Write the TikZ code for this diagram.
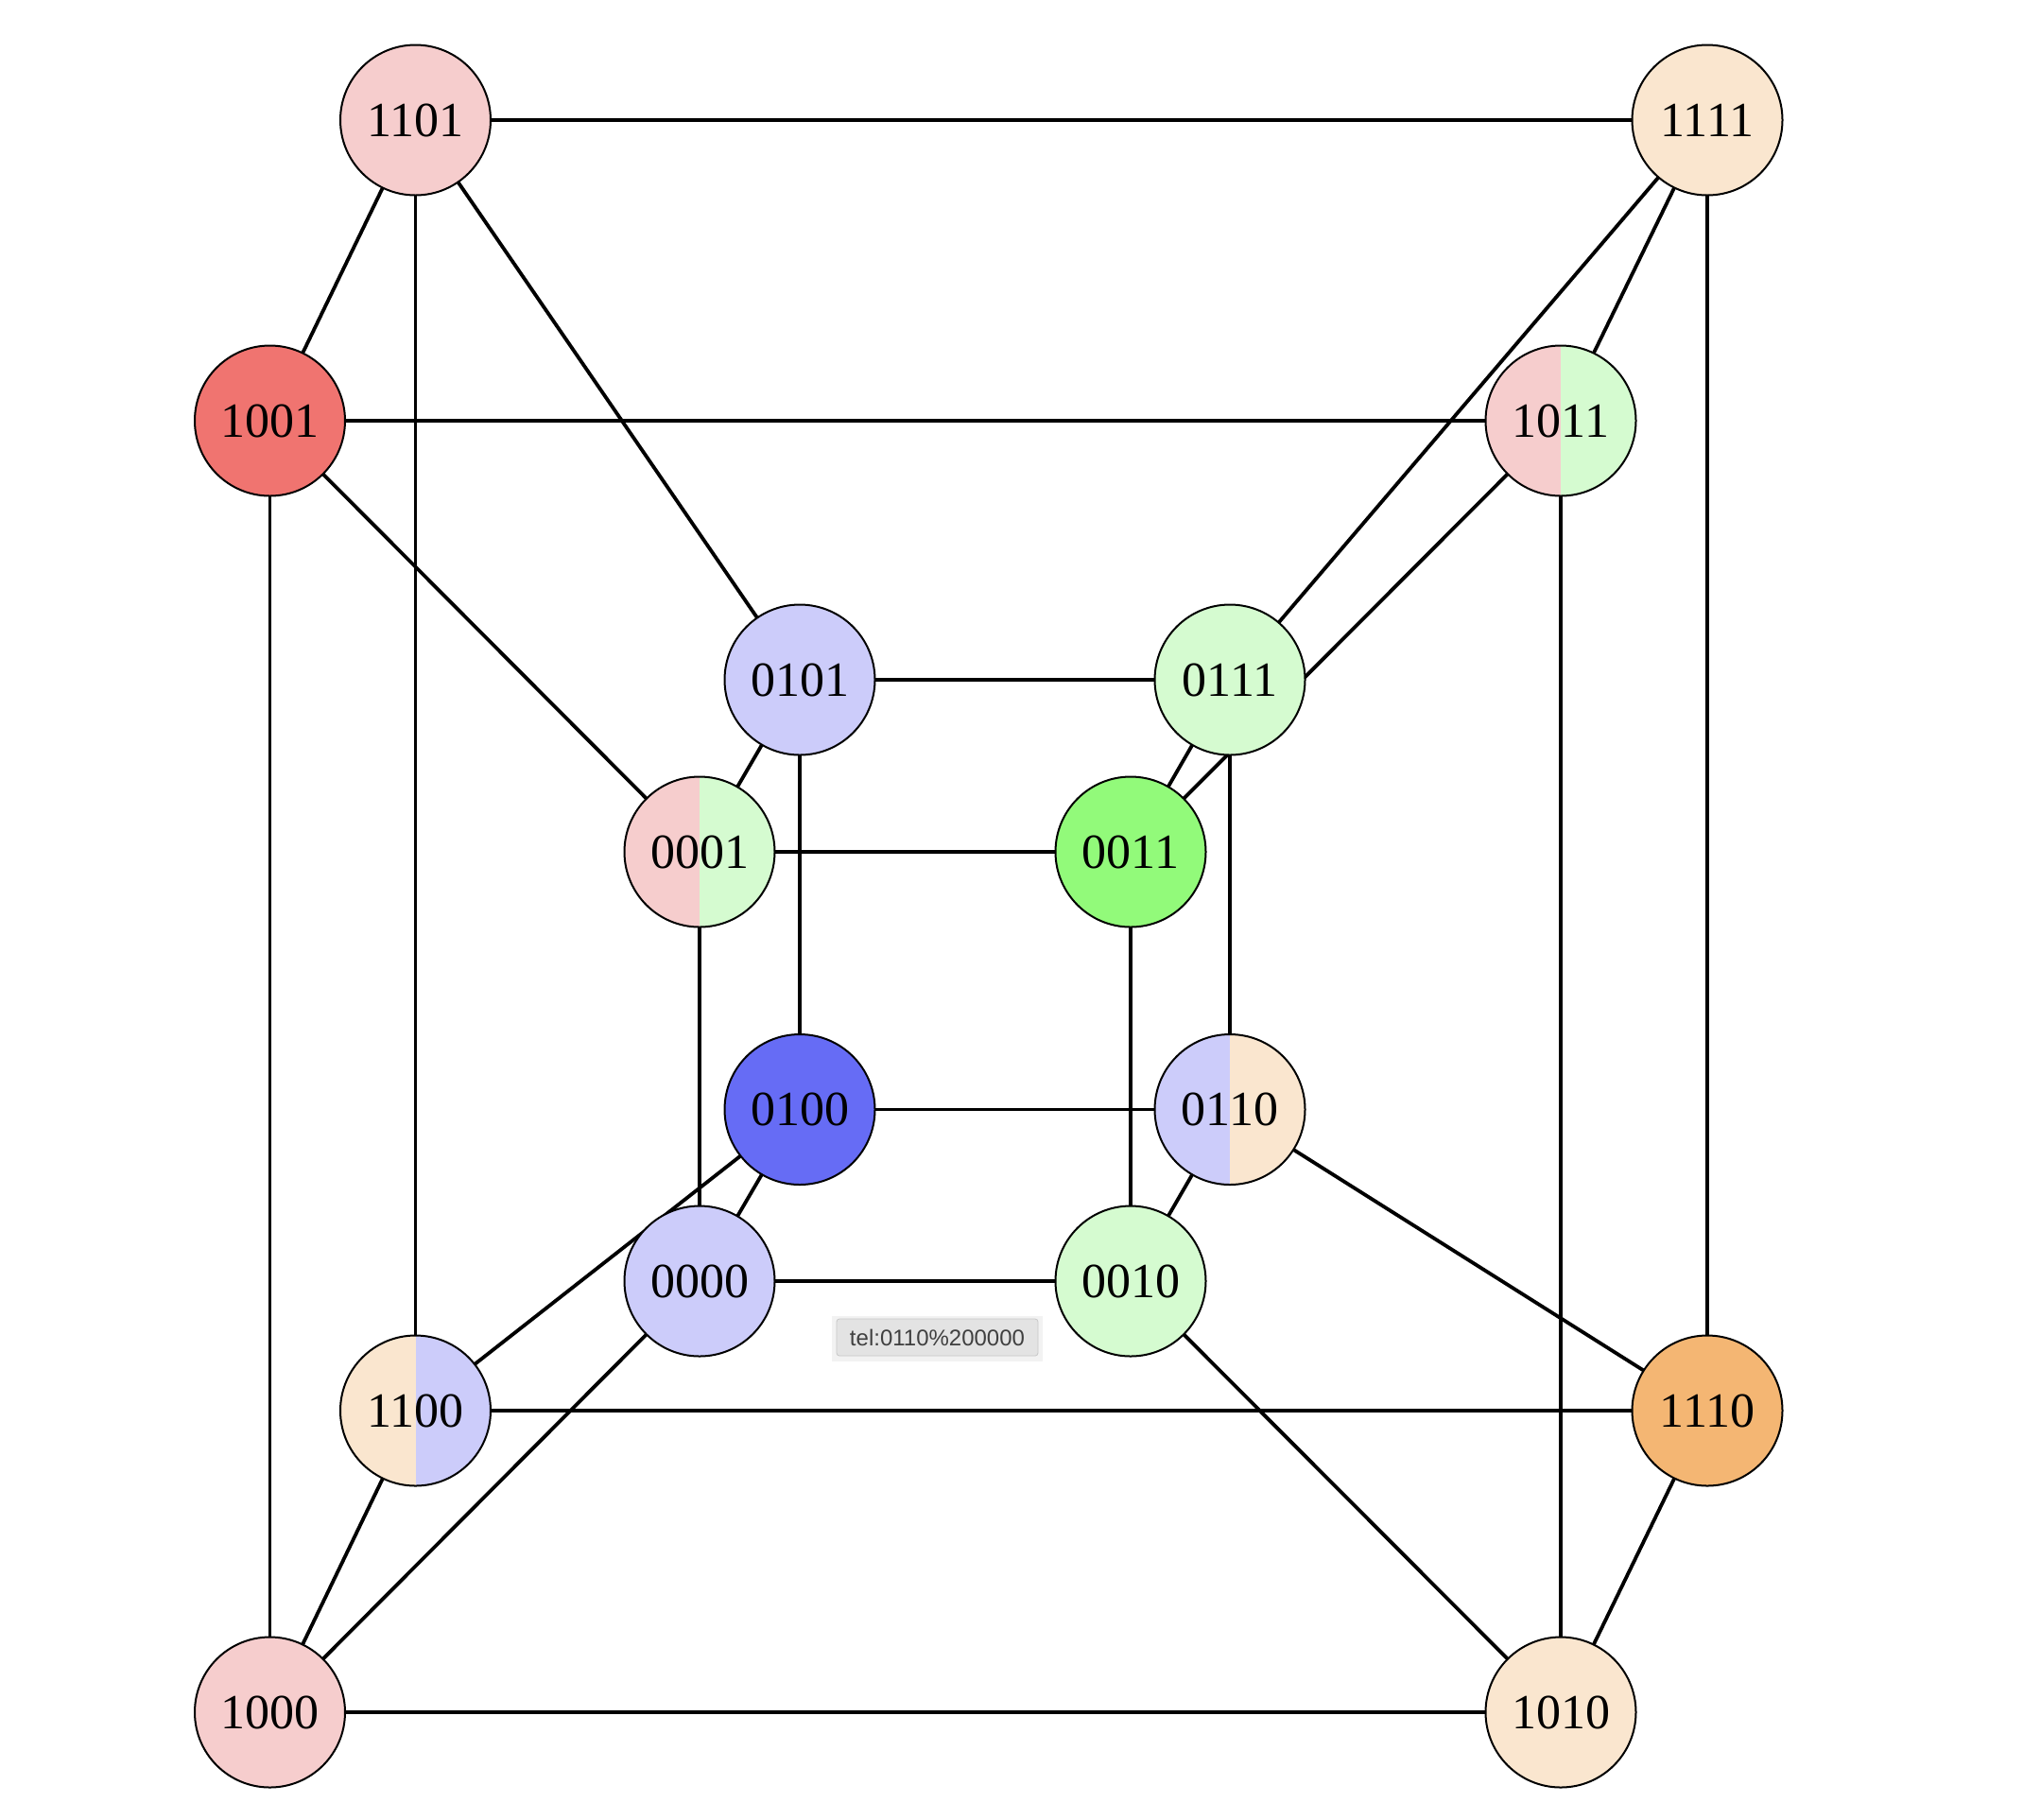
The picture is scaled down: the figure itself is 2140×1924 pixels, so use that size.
\documentclass[tikz,border=0pt]{standalone}
\usepackage{fontspec}
\setmainfont{Liberation Serif}
\newfontfamily\tipfont{Liberation Sans}
\usetikzlibrary{backgrounds}
\definecolor{cpink}{HTML}{F6CDCD}
\definecolor{cred}{HTML}{F07470}
\definecolor{clgreen}{HTML}{D5FBD0}
\definecolor{cgreen}{HTML}{92FA7A}
\definecolor{cblue}{HTML}{666CF5}
\definecolor{clav}{HTML}{CCCCFA}
\definecolor{cpeach}{HTML}{FAE6CF}
\definecolor{corange}{HTML}{F4B673}
\tikzset{
  vtx/.style={circle, draw=black, line width=1pt, minimum size=79.5pt, inner sep=0pt,
    font=\fontsize{26}{30}\selectfont},
  half/.style 2 args={vtx, path picture={
    \fill[#1] (path picture bounding box.south west) rectangle (path picture bounding box.north);
    \fill[#2] (path picture bounding box.south) rectangle (path picture bounding box.north east);}},
  edge/.style={line width=1.9pt, black},
}
\begin{document}
\begin{tikzpicture}[x=0.5pt, y=-0.5pt]
\useasboundingbox (0,0) rectangle (2140,1924);
% outer cube
\node[vtx, fill=cpink] (n1101) at (439.5,127) {1101};
\node[vtx, fill=cpeach] (n1111) at (1806,127) {1111};
\node[vtx, fill=cred] (n1001) at (285.5,445) {1001};
\node[half={cpink}{clgreen}] (n1011) at (1651,445) {1011};
\node[half={cpeach}{clav}] (n1100) at (439.5,1492) {1100};
\node[vtx, fill=corange] (n1110) at (1806,1492) {1110};
\node[vtx, fill=cpink] (n1000) at (285.5,1811) {1000};
\node[vtx, fill=cpeach] (n1010) at (1651,1811) {1010};
% inner cube
\node[vtx, fill=clav] (n0101) at (846,719) {0101};
\node[vtx, fill=clgreen] (n0111) at (1301,719) {0111};
\node[half={cpink}{clgreen}] (n0001) at (740,901) {0001};
\node[vtx, fill=cgreen] (n0011) at (1196,901) {0011};
\node[vtx, fill=cblue] (n0100) at (846,1173.5) {0100};
\node[half={clav}{cpeach}] (n0110) at (1301,1173.5) {0110};
\node[vtx, fill=clav] (n0000) at (740,1355) {0000};
\node[vtx, fill=clgreen] (n0010) at (1196,1355) {0010};
% tooltip
\node[draw=black!22, fill=black!11, rounded corners=1.5pt, minimum width=106.5pt, minimum height=19.5pt,
  inner sep=0pt, text=black!75, font=\tipfont\fontsize{12}{14}\selectfont] (tip) at (991.5,1414.5) {tel:0110\%200000};
\begin{scope}[on background layer]
\fill[black!5] (880,1392) rectangle (1103,1440);
\foreach \a/\b in {1101/1111,1101/1001,1101/1100,1111/1011,1111/1110,1001/1011,1001/1000,1011/1010,1100/1110,1100/1000,1110/1010,1000/1010,
  0101/0111,0101/0001,0101/0100,0111/0011,0111/0110,0001/0011,0001/0000,0011/0010,0100/0110,0100/0000,0110/0010,0000/0010,
  1101/0101,1111/0111,1001/0001,1011/0011,1100/0100,1110/0110,1000/0000,1010/0010}
  \draw[edge] (n\a.center) -- (n\b.center);
\end{scope}
\end{tikzpicture}
\end{document}
